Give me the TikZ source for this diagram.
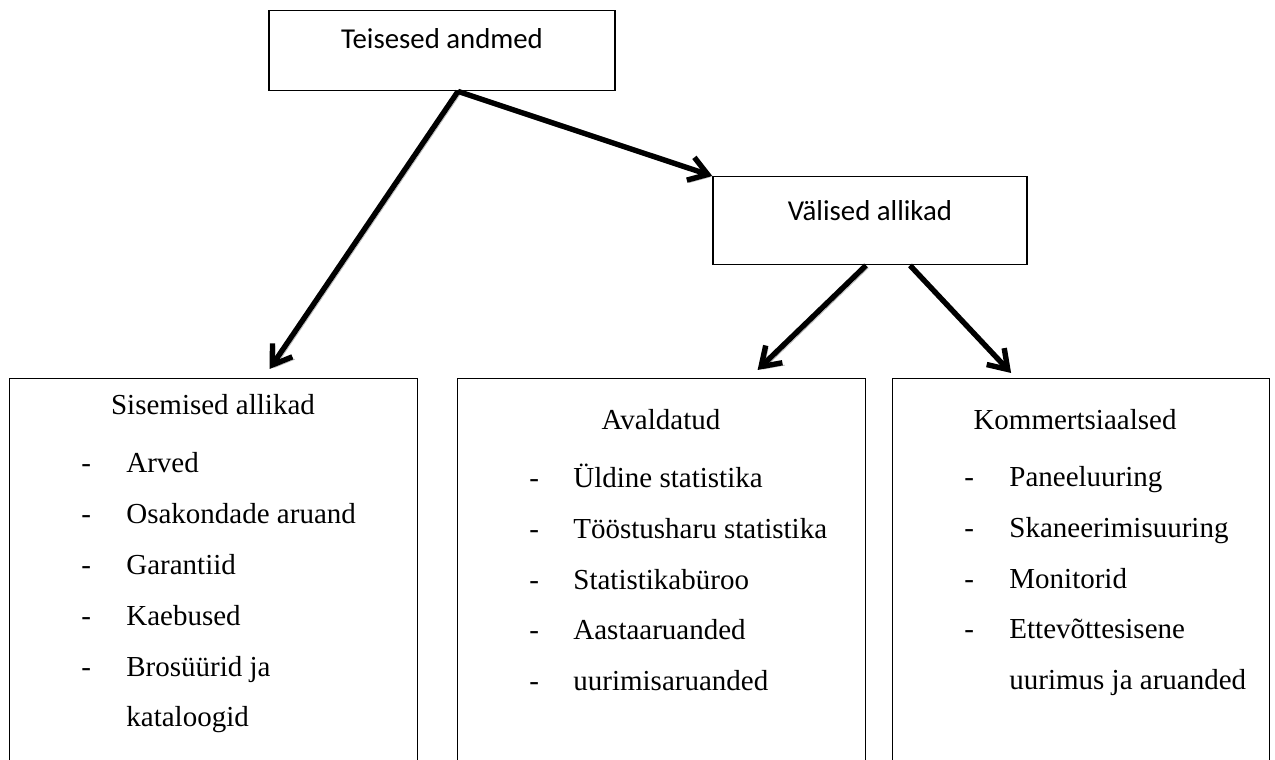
\documentclass[tikz,border=0pt]{standalone}
\usepackage{fontspec}
\setmainfont{Liberation Serif}
\newfontfamily\calibrifont{Carlito}
\usetikzlibrary{arrows.meta}

\tikzset{
  ylakast/.style={draw, line width=0.7pt, inner sep=0pt, anchor=north,
    font=\calibrifont\fontsize{14.4pt}{17pt}\selectfont},
  alamkast/.style={draw, line width=0.6pt, inner sep=0pt, anchor=north west,
    minimum height=200pt},
  pealkiri/.style={inner sep=0pt, anchor=base,
    font=\fontsize{14.5pt}{17pt}\selectfont},
  kriips/.style={inner sep=0pt, anchor=base west,
    font=\fontsize{14.5pt}{17pt}\selectfont},
  punkt/.style={inner sep=0pt, anchor=base west,
    font=\fontsize{14.5pt}{17pt}\selectfont},
  nool/.style={line width=2.7pt, -{Straight Barb[length=9pt,width=12pt]},
    preaction={draw=gray!55, transform canvas={xshift=1.2pt,yshift=-1.2pt}}}
}

\begin{document}
\begin{tikzpicture}[x=0.5pt,y=0.5pt]
    \useasboundingbox (0,0) rectangle (1275,760);
    \clip (0,0) rectangle (1275,760);
    % ülemised kastid
    \node[ylakast, minimum width=173pt, text height=19pt, text depth=21pt] (teisesed) at (442,750) {Teisesed andmed};
    \node[ylakast, minimum width=157pt, text height=22pt, text depth=22pt] (valised) at (870,584) {Välised allikad};
    % alumised kastid
    \node[alamkast, minimum width=204pt] (sisemised) at (9,382) {};
    \node[alamkast, minimum width=204pt] (avaldatud) at (457,382) {};
    \node[alamkast, minimum width=188.5pt] (kommerts) at (892,382) {};
    \node[pealkiri] (sis-pk) at (213,345) {Sisemised allikad};
    \node[pealkiri] (ava-pk) at (661,330) {Avaldatud};
    \node[pealkiri] (kom-pk) at (1075,330) {Kommertsiaalsed};
    % loetelud
    \foreach \txt [count=\i] in {Arved, Osakondade aruand, Garantiid, Kaebused, Brosüürid ja}{
        \node[kriips] (sis-k\i) at (81,{287-50.8*(\i-1)}) {-};
        \node[punkt] (sis-p\i) at (126,{287-50.8*(\i-1)}) {\txt};
    }
    \node[punkt] (sis-p6) at (126,{287-50.8*5}) {kataloogid};
    \foreach \txt [count=\i] in {Üldine statistika, Tööstusharu statistika, Statistikabüroo, Aastaaruanded, uurimisaruanded}{
        \node[kriips] (ava-k\i) at (529,{272-50.6*(\i-1)}) {-};
        \node[punkt] (ava-p\i) at (573,{272-50.6*(\i-1)}) {\txt};
    }
    \foreach \txt [count=\i] in {Paneeluuring, Skaneerimisuuring, Monitorid, Ettevõttesisene}{
        \node[kriips] (kom-k\i) at (964,{273-50.6*(\i-1)}) {-};
        \node[punkt] (kom-p\i) at (1009,{273-50.6*(\i-1)}) {\txt};
    }
    \node[punkt] (kom-p5) at (1009,{273-50.6*4}) {uurimus ja aruanded};
    % nooled
    \draw[nool] ([xshift=8pt]teisesed.south) -- ([xshift=28pt,yshift=4.5pt]sisemised.north);
    \draw[nool] ([xshift=8pt]teisesed.south) -- (valised.north west);
    \draw[nool] ([xshift=-2pt]valised.south) -- ([xshift=48pt,yshift=4pt]avaldatud.north);
    \draw[nool] ([xshift=20pt]valised.south) -- ([xshift=-35pt,yshift=2.5pt]kommerts.north);
\end{tikzpicture}
\end{document}
